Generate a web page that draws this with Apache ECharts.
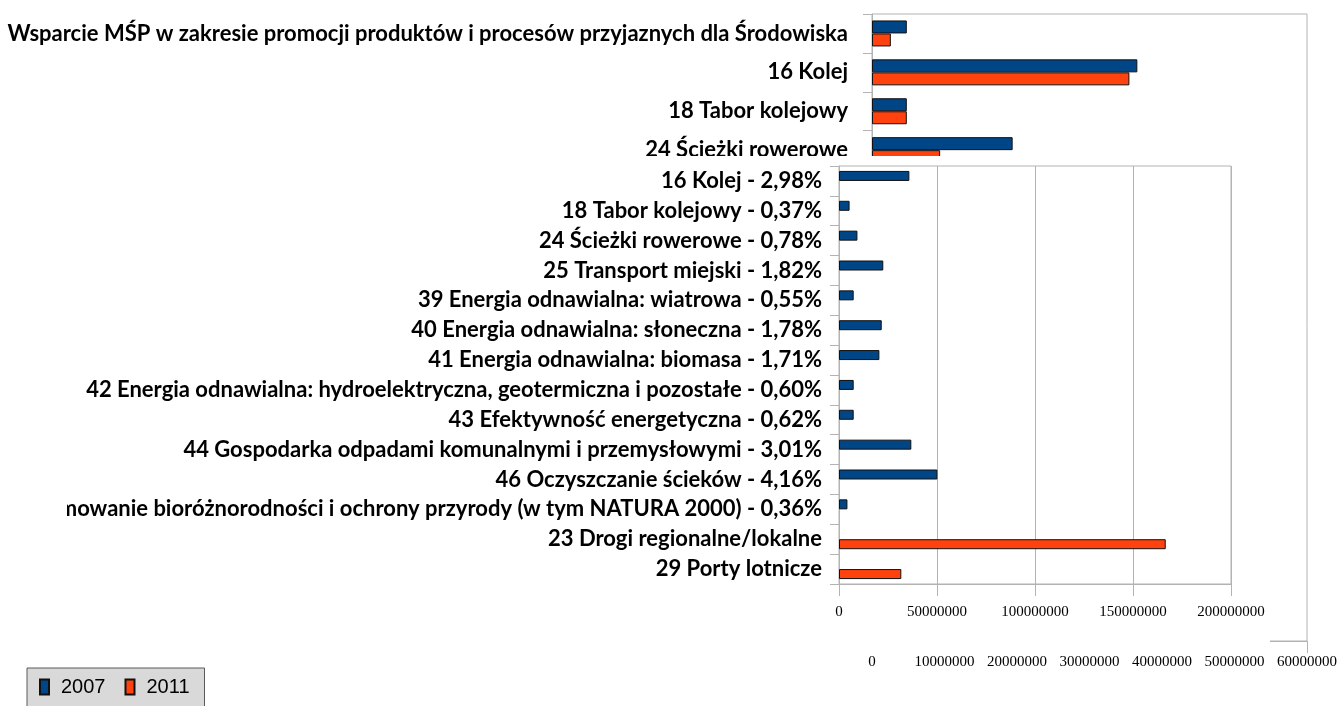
<!DOCTYPE html>
<html>
<head>
<meta charset="utf-8">
<script src="https://cdn.jsdelivr.net/npm/echarts@6/dist/echarts.min.js"></script>
<style>
  html, body { margin: 0; padding: 0; background: #fff; }
  #chart { width: 1340px; height: 706px; }
</style>
</head>
<body>
<div id="chart"></div>
<script>
// wykres tylny (widoczna tylko gorna czesc)
const backCategories = [
  'Wsparcie MŚP w zakresie promocji produktów i procesów przyjaznych dla Środowiska',
  '16 Kolej',
  '18 Tabor kolejowy',
  '24 Ścieżki rowerowe'
]
const back2007 = [4800000, 36600000, 4800000, 19400000]
const back2011 = [2600000, 35500000, 4800000, 9400000]
const backTicks = { min: 0, max: 60000000, interval: 10000000 }

// wykres przedni
const frontCategories = [
  '16 Kolej - 2,98%',
  '18 Tabor kolejowy - 0,37%',
  '24 Ścieżki rowerowe - 0,78%',
  '25 Transport miejski - 1,82%',
  '39 Energia odnawialna: wiatrowa - 0,55%',
  '40 Energia odnawialna: słoneczna - 1,78%',
  '41 Energia odnawialna: biomasa - 1,71%',
  '42 Energia odnawialna: hydroelektryczna, geotermiczna i pozostałe - 0,60%',
  '43 Efektywność energetyczna - 0,62%',
  '44 Gospodarka odpadami komunalnymi i przemysłowymi - 3,01%',
  '46 Oczyszczanie ścieków - 4,16%',
  '51 Promowanie bioróżnorodności i ochrony przyrody (w tym NATURA 2000) - 0,36%',
  '23 Drogi regionalne/lokalne',
  '29 Porty lotnicze'
]
const front2007 = [35900000, 5400000, 9400000, 22600000, 7500000, 21800000, 20600000,
  7500000, 7500000, 36900000, 50200000, 4300000, '-', '-']
const front2011 = ['-', '-', '-', '-', '-', '-', '-', '-', '-', '-', '-', '-', 166700000, 31800000]
const frontTicks = { min: 0, max: 200000000, interval: 50000000 }

const C2007 = '#004586'
const C2011 = '#ff420e'
const GRID_LINE = '#b3b3b3'

const chart = echarts.init(document.getElementById('chart'))

const catLabel = {
  interval: 0,
  color: '#000',
  fontFamily: 'Lato',
  fontWeight: 'bold',
  fontSize: 22
}
const numLabel = {
  color: '#000',
  fontFamily: 'Liberation Serif',
  fontSize: 15,
  formatter: v => String(v)
}

const option = {
  animation: false,
  legend: {
    data: ['2007', '2011'],
    left: 27,
    top: 668,
    orient: 'horizontal',
    backgroundColor: '#d9d9d9',
    borderColor: '#5a5a5a',
    borderWidth: 1,
    borderRadius: 0,
    padding: [9, 15, 12, 12],
    itemWidth: 9,
    itemHeight: 15,
    itemGap: 19,
    selectedMode: false,
    icon: 'rect',
    z: 30,
    textStyle: {
      color: '#000',
      fontFamily: 'Liberation Sans',
      fontSize: 20,
      padding: [0, 0, 0, 7]
    }
  },
  graphic: [
    {
      // tlo wykresu przedniego
      type: 'rect',
      z: 5,
      shape: { x: 0, y: 156, width: 1270, height: 498 },
      style: { fill: '#fff' }
    },
    {
      // przyciecie etykiet po lewej
      type: 'rect',
      z: 40,
      shape: { x: 0, y: 156, width: 67, height: 498 },
      style: { fill: '#fff' }
    }
  ],
  grid: [
    { left: 872, top: 14, width: 435, height: 627, outerBoundsMode: 'none', show: true, borderColor: GRID_LINE, borderWidth: 1, backgroundColor: 'transparent' },
    { left: 872, top: 14, width: 435, height: 155.6, outerBoundsMode: 'none' },
    { left: 839, top: 166, width: 392, height: 418, outerBoundsMode: 'none', show: true, borderColor: GRID_LINE, borderWidth: 1, z: 10 }
  ],
  xAxis: [
    {
      gridIndex: 0,
      type: 'value',
      min: backTicks.min,
      max: backTicks.max,
      interval: backTicks.interval,
      axisLine: { show: true, lineStyle: { color: GRID_LINE } },
      axisTick: { show: true, length: 12, lineStyle: { color: GRID_LINE } },
      splitLine: { show: false },
      axisLabel: Object.assign({ margin: 14 }, numLabel)
    },
    {
      gridIndex: 1,
      type: 'value',
      min: backTicks.min,
      max: backTicks.max,
      show: false
    },
    {
      gridIndex: 2,
      type: 'value',
      min: frontTicks.min,
      max: frontTicks.max,
      interval: frontTicks.interval,
      z: 11,
      axisLine: { show: true, lineStyle: { color: GRID_LINE } },
      axisTick: { show: true, length: 12, lineStyle: { color: GRID_LINE } },
      splitLine: { show: true, lineStyle: { color: GRID_LINE } },
      axisLabel: Object.assign({ margin: 21 }, numLabel)
    }
  ],
  yAxis: [
    { gridIndex: 0, type: 'value', show: false },
    {
      gridIndex: 1,
      type: 'category',
      inverse: true,
      data: backCategories,
      axisLine: { show: true, lineStyle: { color: GRID_LINE } },
      axisTick: { show: true, length: 9, lineStyle: { color: GRID_LINE } },
      axisLabel: Object.assign({ margin: 24 }, catLabel)
    },
    {
      gridIndex: 2,
      type: 'category',
      inverse: true,
      data: frontCategories,
      z: 11,
      axisLine: { show: true, lineStyle: { color: GRID_LINE } },
      axisTick: { show: true, length: 9, lineStyle: { color: GRID_LINE } },
      axisLabel: Object.assign({ margin: 17 }, catLabel)
    }
  ],
  series: [
    {
      name: '2007', type: 'bar', xAxisIndex: 1, yAxisIndex: 1,
      data: back2007, barWidth: 13, barGap: 0,
      itemStyle: { color: C2007, borderColor: '#111', borderWidth: 1 }
    },
    {
      name: '2011', type: 'bar', xAxisIndex: 1, yAxisIndex: 1,
      data: back2011, barWidth: 13, barGap: 0,
      itemStyle: { color: C2011, borderColor: '#111', borderWidth: 1 }
    },
    {
      name: '2007', type: 'bar', xAxisIndex: 2, yAxisIndex: 2, z: 12,
      data: front2007, barWidth: 10, barGap: 0,
      itemStyle: { color: C2007, borderColor: '#111', borderWidth: 1 }
    },
    {
      name: '2011', type: 'bar', xAxisIndex: 2, yAxisIndex: 2, z: 12,
      data: front2011, barWidth: 10, barGap: 0,
      itemStyle: { color: C2011, borderColor: '#111', borderWidth: 1 }
    }
  ]
}

chart.setOption(option)
</script>
</body>
</html>
